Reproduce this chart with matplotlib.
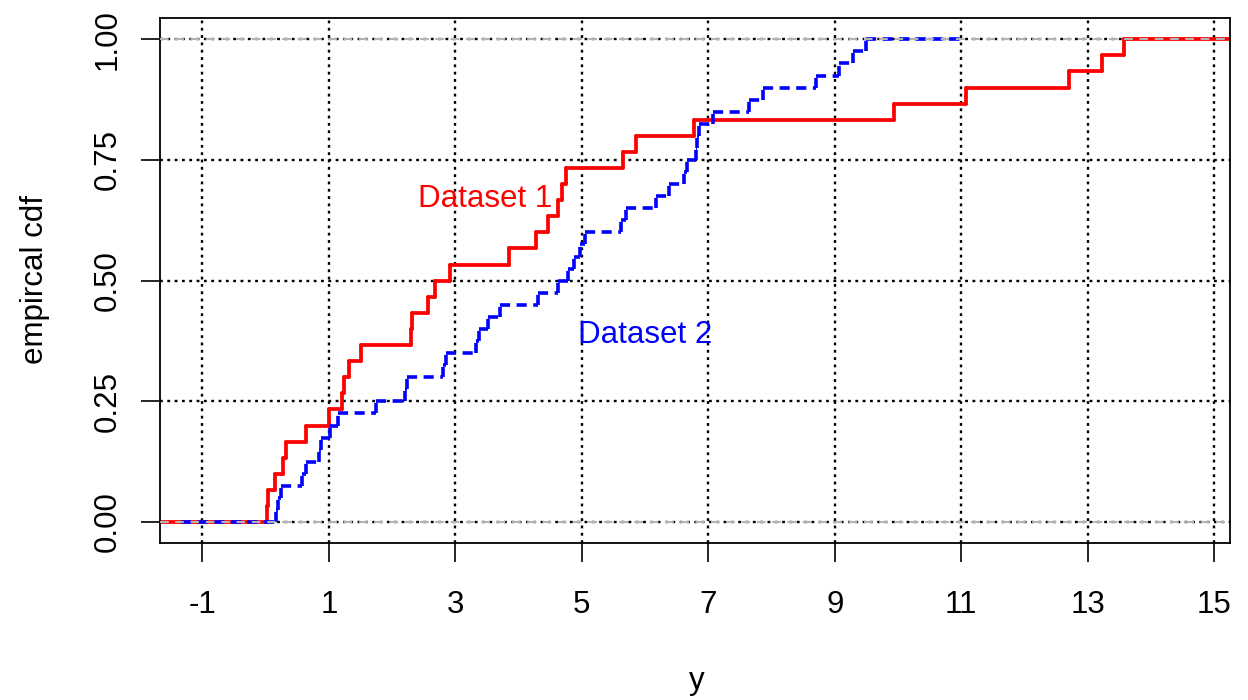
import numpy as np
import matplotlib
matplotlib.use("Agg")
import matplotlib.pyplot as plt
from matplotlib.collections import LineCollection

# Observations of the two samples
dataset1 = [0.02, 0.04, 0.14, 0.27, 0.32, 0.64, 1.00, 1.21, 1.245, 1.31,
            1.51, 2.29, 2.31, 2.56, 2.67, 2.92, 3.84, 4.28, 4.46, 4.62,
            4.69, 4.75, 5.65, 5.86, 6.78, 9.94, 11.07, 12.71, 13.23, 13.58]
dataset2 = [0.16, 0.19, 0.24, 0.58, 0.63, 0.84, 0.88, 1.02, 1.14, 1.75,
            2.20, 2.24, 2.80, 2.85, 3.33, 3.37, 3.51, 3.70, 4.30, 4.62,
            4.78, 4.88, 4.97, 5.05, 5.62, 5.70, 6.17, 6.38, 6.62, 6.67,
            6.80, 6.82, 6.85, 7.07, 7.65, 7.86, 8.70, 9.07, 9.28, 9.49]

series_names = ["Dataset 1", "Dataset 2"]
series_label_pos = [(3.475, 0.652), (6.0, 0.371)]
x_ticks = [-1, 1, 3, 5, 7, 9, 11, 13, 15]
y_ticks = [0.0, 0.25, 0.5, 0.75, 1.0]
y_tick_labels = ["0.00", "0.25", "0.50", "0.75", "1.00"]
x_title = "y"
y_title = "empircal cdf"

FONT = ["Liberation Sans", "Arial", "DejaVu Sans"]
FS = 22.5


def ecdf_segments(values):
    """Horizontal and vertical pieces of a step ECDF (each drawn separately)."""
    xs = np.sort(np.asarray(values, dtype=float))
    knots, counts = np.unique(xs, return_counts=True)
    levels = np.concatenate([[0.0], np.cumsum(counts) / len(xs)])
    dr = max(0.08 * (knots[-1] - knots[0]), np.median(np.diff(knots)))
    lo, hi = knots[0] - dr, knots[-1] + dr
    ti = np.concatenate([[lo - dr], knots, [hi + dr]])
    horiz = [[(ti[i], levels[i]), (ti[i + 1], levels[i])] for i in range(len(levels))]
    vert = [[(knots[i], levels[i]), (knots[i], levels[i + 1])] for i in range(len(knots))]
    return horiz + vert


fig = plt.figure(figsize=(12.48, 7.0), dpi=100)
ax = fig.add_axes([160 / 1248, 1 - 543.3 / 700, 1070 / 1248, 525 / 700])
ax.set_xlim(-1.672, 15.25)
ax.set_ylim(-0.044, 1.0435)

# dotted reference grid underneath
grid_style = dict(color="black", lw=1.7, linestyle=(0, (1.2, 1.9)), zorder=1)
for xv in x_ticks:
    ax.axvline(xv, **grid_style)
for yv in y_ticks:
    ax.axhline(yv, **grid_style)


def gray_01(z):
    # dashed gray lines marking F = 0 and F = 1
    for yv in (0.0, 1.0):
        ax.axhline(yv, color="#B3B3B3", lw=1.45, linestyle=(0, (4.2, 3.4)), zorder=z)


red = LineCollection(ecdf_segments(dataset1), colors="#FF0000", linewidths=2.7,
                     capstyle="round", zorder=2)
ax.add_collection(red)
gray_01(2.5)
blue = LineCollection(ecdf_segments(dataset2), colors="#0000FF", linewidths=2.6,
                      linestyles=[(0, (2.8, 1.8))], capstyle="butt", zorder=3)
ax.add_collection(blue)
gray_01(3.5)

for name, (tx, ty), col in zip(series_names, series_label_pos, ["#FF0000", "#0000FF"]):
    ax.text(tx, ty, name, color=col, fontsize=FS, family=FONT,
            ha="center", va="baseline", zorder=6)

ax.set_xticks(x_ticks)
ax.set_xticklabels([str(v) for v in x_ticks], family=FONT, fontsize=FS)
ax.set_yticks(y_ticks)
ax.set_yticklabels(y_tick_labels, family=FONT, fontsize=FS, rotation=90, va="center")
ax.tick_params(axis="both", direction="out", length=13.7, width=1.2, color="black")
ax.tick_params(axis="x", pad=20)
ax.tick_params(axis="y", pad=13.3)
for sp in ax.spines.values():
    sp.set_linewidth(1.3)
    sp.set_color("black")

fig.text(697 / 1248, 1 - 689.3 / 700, x_title, ha="center", va="baseline",
         fontsize=FS, family=FONT)
fig.text(35 / 1248, 1 - 280 / 700, y_title, ha="center", va="center",
         rotation=90, fontsize=FS, family=FONT)

fig.savefig("out.png", dpi=100)
